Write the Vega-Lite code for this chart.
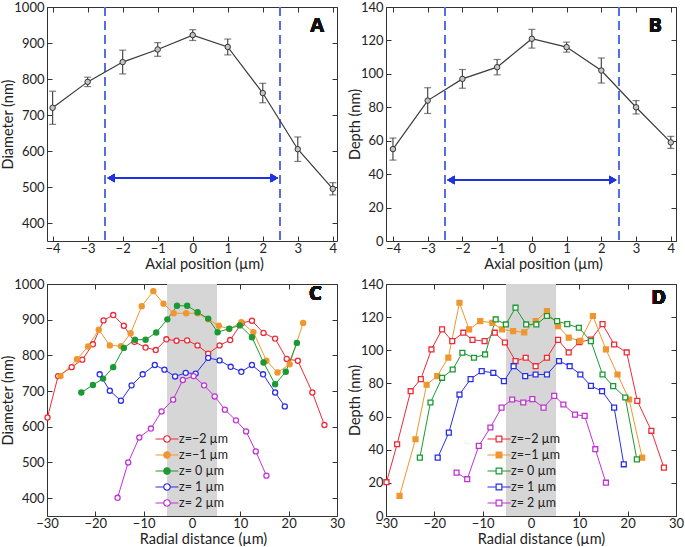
{
  "$schema": "https://vega.github.io/schema/vega-lite/v6.json",
  "autosize": {"type": "pad"},
  "padding": {"left": 0, "top": 0, "right": 2, "bottom": 0},
  "background": "white",
  "config": {
    "font": "Lato",
    "view": {"stroke": "#333333", "strokeWidth": 1},
    "axis": {
      "domain": false, "grid": false, "tickSize": -5, "tickColor": "#333333", "tickWidth": 1, "format": "d",
      "labelFont": "Lato", "labelFontSize": 13, "labelColor": "#222222",
      "labelFlush": false, "labelOverlap": false,
      "titleFont": "Lato", "titleFontSize": 14.5, "titleFontWeight": "normal", "titleColor": "#222222"
    },
    "axisX": {"labelPadding": 6, "titlePadding": 2},
    "axisY": {"labelPadding": 8, "titlePadding": -2},
    "legend": {"labelFont": "Lato", "labelFontSize": 12.5, "labelColor": "#222222", "padding": 0}
  },
  "columns": 2,
  "spacing": {"row": 43, "column": 49},
  "bounds": "flush",
  "resolve": {"scale": {"stroke": "independent", "fill": "independent"}, "legend": {"stroke": "independent"}},
  "datasets": {
    "A": [
      {"x": -4, "y": 720, "err": 46}, {"x": -3, "y": 792, "err": 13}, {"x": -2, "y": 847, "err": 33},
      {"x": -1, "y": 882, "err": 19}, {"x": 0, "y": 922, "err": 15}, {"x": 1, "y": 889, "err": 22},
      {"x": 2, "y": 761, "err": 27}, {"x": 3, "y": 605, "err": 34}, {"x": 4, "y": 495, "err": 17}
    ],
    "B": [
      {"x": -4, "y": 55, "err": 6.6}, {"x": -3, "y": 84, "err": 7.7}, {"x": -2, "y": 97, "err": 5.6},
      {"x": -1, "y": 104, "err": 4.6}, {"x": 0, "y": 121, "err": 5.6}, {"x": 1, "y": 116, "err": 3},
      {"x": 2, "y": 102, "err": 7.5}, {"x": 3, "y": 80, "err": 4}, {"x": 4, "y": 59, "err": 3.6}
    ],
    "C": [
      {"s": "z=−2 µm", "x": -29.9, "y": 626}, {"s": "z=−2 µm", "x": -27.7, "y": 742}, {"s": "z=−2 µm", "x": -24.9, "y": 767},
      {"s": "z=−2 µm", "x": -22.7, "y": 788}, {"s": "z=−2 µm", "x": -20.5, "y": 831}, {"s": "z=−2 µm", "x": -18.3, "y": 898},
      {"s": "z=−2 µm", "x": -16.3, "y": 913}, {"s": "z=−2 µm", "x": -14.1, "y": 883}, {"s": "z=−2 µm", "x": -11.9, "y": 838},
      {"s": "z=−2 µm", "x": -9.6, "y": 822}, {"s": "z=−2 µm", "x": -7.5, "y": 815}, {"s": "z=−2 µm", "x": -5.3, "y": 845},
      {"s": "z=−2 µm", "x": -3.2, "y": 841}, {"s": "z=−2 µm", "x": -1.0, "y": 842}, {"s": "z=−2 µm", "x": 1.15, "y": 828},
      {"s": "z=−2 µm", "x": 3.35, "y": 805}, {"s": "z=−2 µm", "x": 5.7, "y": 828}, {"s": "z=−2 µm", "x": 7.9, "y": 843},
      {"s": "z=−2 µm", "x": 10.3, "y": 891}, {"s": "z=−2 µm", "x": 12.4, "y": 897}, {"s": "z=−2 µm", "x": 14.8, "y": 863},
      {"s": "z=−2 µm", "x": 17.2, "y": 847}, {"s": "z=−2 µm", "x": 19.6, "y": 790}, {"s": "z=−2 µm", "x": 21.9, "y": 785},
      {"s": "z=−2 µm", "x": 24.9, "y": 696}, {"s": "z=−2 µm", "x": 27.4, "y": 605},
      {"s": "z=−1 µm", "x": -27.2, "y": 742}, {"s": "z=−1 µm", "x": -23.8, "y": 789}, {"s": "z=−1 µm", "x": -21.5, "y": 825},
      {"s": "z=−1 µm", "x": -19.3, "y": 872}, {"s": "z=−1 µm", "x": -17.0, "y": 828}, {"s": "z=−1 µm", "x": -14.7, "y": 826},
      {"s": "z=−1 µm", "x": -12.7, "y": 862}, {"s": "z=−1 µm", "x": -10.4, "y": 938}, {"s": "z=−1 µm", "x": -8.0, "y": 980},
      {"s": "z=−1 µm", "x": -5.9, "y": 945}, {"s": "z=−1 µm", "x": -3.8, "y": 918}, {"s": "z=−1 µm", "x": -1.2, "y": 918},
      {"s": "z=−1 µm", "x": 1.15, "y": 918}, {"s": "z=−1 µm", "x": 3.35, "y": 901}, {"s": "z=−1 µm", "x": 5.55, "y": 883},
      {"s": "z=−1 µm", "x": 7.7, "y": 874}, {"s": "z=−1 µm", "x": 10.2, "y": 893}, {"s": "z=−1 µm", "x": 12.7, "y": 865},
      {"s": "z=−1 µm", "x": 15.4, "y": 785}, {"s": "z=−1 µm", "x": 17.7, "y": 752}, {"s": "z=−1 µm", "x": 20.2, "y": 775},
      {"s": "z=−1 µm", "x": 23.0, "y": 891},
      {"s": "z= 0 µm", "x": -22.9, "y": 696}, {"s": "z= 0 µm", "x": -20.5, "y": 717}, {"s": "z= 0 µm", "x": -18.4, "y": 735},
      {"s": "z= 0 µm", "x": -16.3, "y": 767}, {"s": "z= 0 µm", "x": -14.1, "y": 821}, {"s": "z= 0 µm", "x": -11.8, "y": 844},
      {"s": "z= 0 µm", "x": -9.6, "y": 844}, {"s": "z= 0 µm", "x": -7.4, "y": 864}, {"s": "z= 0 µm", "x": -5.1, "y": 901},
      {"s": "z= 0 µm", "x": -3.1, "y": 939}, {"s": "z= 0 µm", "x": -1.0, "y": 939}, {"s": "z= 0 µm", "x": 1.15, "y": 921},
      {"s": "z= 0 µm", "x": 3.35, "y": 903}, {"s": "z= 0 µm", "x": 5.3, "y": 865}, {"s": "z= 0 µm", "x": 7.7, "y": 875},
      {"s": "z= 0 µm", "x": 9.9, "y": 884}, {"s": "z= 0 µm", "x": 12.4, "y": 851}, {"s": "z= 0 µm", "x": 14.8, "y": 780},
      {"s": "z= 0 µm", "x": 17.2, "y": 719}, {"s": "z= 0 µm", "x": 19.4, "y": 754}, {"s": "z= 0 µm", "x": 21.7, "y": 835},
      {"s": "z= 1 µm", "x": -19.1, "y": 747}, {"s": "z= 1 µm", "x": -17.0, "y": 701}, {"s": "z= 1 µm", "x": -14.7, "y": 673},
      {"s": "z= 1 µm", "x": -12.5, "y": 716}, {"s": "z= 1 µm", "x": -10.2, "y": 747}, {"s": "z= 1 µm", "x": -7.7, "y": 773},
      {"s": "z= 1 µm", "x": -5.7, "y": 760}, {"s": "z= 1 µm", "x": -3.5, "y": 741}, {"s": "z= 1 µm", "x": -1.3, "y": 751},
      {"s": "z= 1 µm", "x": 0.75, "y": 749}, {"s": "z= 1 µm", "x": 3.35, "y": 793}, {"s": "z= 1 µm", "x": 5.7, "y": 786},
      {"s": "z= 1 µm", "x": 8.0, "y": 768}, {"s": "z= 1 µm", "x": 10.2, "y": 754}, {"s": "z= 1 µm", "x": 12.4, "y": 773},
      {"s": "z= 1 µm", "x": 14.7, "y": 747}, {"s": "z= 1 µm", "x": 17.2, "y": 696}, {"s": "z= 1 µm", "x": 19.2, "y": 657},
      {"s": "z= 2 µm", "x": -15.4, "y": 401}, {"s": "z= 2 µm", "x": -13.2, "y": 500}, {"s": "z= 2 µm", "x": -10.9, "y": 570},
      {"s": "z= 2 µm", "x": -8.5, "y": 595}, {"s": "z= 2 µm", "x": -6.3, "y": 643}, {"s": "z= 2 µm", "x": -3.9, "y": 676},
      {"s": "z= 2 µm", "x": -1.9, "y": 731}, {"s": "z= 2 µm", "x": 0.33, "y": 742}, {"s": "z= 2 µm", "x": 2.5, "y": 716},
      {"s": "z= 2 µm", "x": 4.7, "y": 685}, {"s": "z= 2 µm", "x": 6.8, "y": 648}, {"s": "z= 2 µm", "x": 9.1, "y": 618},
      {"s": "z= 2 µm", "x": 11.2, "y": 587}, {"s": "z= 2 µm", "x": 13.2, "y": 531}, {"s": "z= 2 µm", "x": 15.4, "y": 463}
    ],
    "D": [
      {"s": "z=−2 µm", "x": -29.9, "y": 20.4}, {"s": "z=−2 µm", "x": -27.7, "y": 43.3}, {"s": "z=−2 µm", "x": -24.9, "y": 75.3},
      {"s": "z=−2 µm", "x": -22.8, "y": 82.6}, {"s": "z=−2 µm", "x": -20.6, "y": 100.5}, {"s": "z=−2 µm", "x": -18.4, "y": 112.6},
      {"s": "z=−2 µm", "x": -16.3, "y": 105.5}, {"s": "z=−2 µm", "x": -14.0, "y": 110.6}, {"s": "z=−2 µm", "x": -12.1, "y": 106.3},
      {"s": "z=−2 µm", "x": -9.6, "y": 105.5}, {"s": "z=−2 µm", "x": -7.5, "y": 110.6}, {"s": "z=−2 µm", "x": -5.4, "y": 104.7},
      {"s": "z=−2 µm", "x": -3.2, "y": 93.5}, {"s": "z=−2 µm", "x": -1.1, "y": 95.5}, {"s": "z=−2 µm", "x": 0.95, "y": 90.4},
      {"s": "z=−2 µm", "x": 3.3, "y": 95.5}, {"s": "z=−2 µm", "x": 5.6, "y": 106.3}, {"s": "z=−2 µm", "x": 7.8, "y": 98.7},
      {"s": "z=−2 µm", "x": 10.0, "y": 104.9}, {"s": "z=−2 µm", "x": 12.4, "y": 106.5}, {"s": "z=−2 µm", "x": 14.8, "y": 115.8},
      {"s": "z=−2 µm", "x": 17.2, "y": 103.5}, {"s": "z=−2 µm", "x": 19.8, "y": 98.7}, {"s": "z=−2 µm", "x": 22.0, "y": 69.5},
      {"s": "z=−2 µm", "x": 24.9, "y": 51.4}, {"s": "z=−2 µm", "x": 27.5, "y": 29.2},
      {"s": "z=−1 µm", "x": -27.2, "y": 12.1}, {"s": "z=−1 µm", "x": -23.9, "y": 46.3}, {"s": "z=−1 µm", "x": -21.6, "y": 79.2},
      {"s": "z=−1 µm", "x": -19.4, "y": 84.4}, {"s": "z=−1 µm", "x": -17.1, "y": 95.6}, {"s": "z=−1 µm", "x": -14.8, "y": 128.7},
      {"s": "z=−1 µm", "x": -12.8, "y": 112.6}, {"s": "z=−1 µm", "x": -10.5, "y": 117.6}, {"s": "z=−1 µm", "x": -8.0, "y": 116.6},
      {"s": "z=−1 µm", "x": -6.0, "y": 112.6}, {"s": "z=−1 µm", "x": -3.7, "y": 111.6}, {"s": "z=−1 µm", "x": -1.4, "y": 110.8},
      {"s": "z=−1 µm", "x": 0.95, "y": 117.6}, {"s": "z=−1 µm", "x": 3.3, "y": 123.7}, {"s": "z=−1 µm", "x": 5.6, "y": 114.6},
      {"s": "z=−1 µm", "x": 7.8, "y": 107.6}, {"s": "z=−1 µm", "x": 10.2, "y": 105.7}, {"s": "z=−1 µm", "x": 12.8, "y": 120.7},
      {"s": "z=−1 µm", "x": 15.5, "y": 100.5}, {"s": "z=−1 µm", "x": 17.9, "y": 85.4}, {"s": "z=−1 µm", "x": 20.3, "y": 70.3},
      {"s": "z=−1 µm", "x": 23.0, "y": 35.2},
      {"s": "z= 0 µm", "x": -23.0, "y": 35.2}, {"s": "z= 0 µm", "x": -20.8, "y": 68.5}, {"s": "z= 0 µm", "x": -18.4, "y": 83.4},
      {"s": "z= 0 µm", "x": -16.2, "y": 88.4}, {"s": "z= 0 µm", "x": -14.2, "y": 98.5}, {"s": "z= 0 µm", "x": -11.8, "y": 95.5},
      {"s": "z= 0 µm", "x": -9.5, "y": 97.5}, {"s": "z= 0 µm", "x": -7.3, "y": 118.6}, {"s": "z= 0 µm", "x": -5.2, "y": 115.6},
      {"s": "z= 0 µm", "x": -3.2, "y": 125.7}, {"s": "z= 0 µm", "x": -1.0, "y": 115.6}, {"s": "z= 0 µm", "x": 1.1, "y": 115.6},
      {"s": "z= 0 µm", "x": 3.3, "y": 120.7}, {"s": "z= 0 µm", "x": 5.4, "y": 117.6}, {"s": "z= 0 µm", "x": 7.5, "y": 115.8},
      {"s": "z= 0 µm", "x": 9.9, "y": 113.6}, {"s": "z= 0 µm", "x": 12.4, "y": 105.5}, {"s": "z= 0 µm", "x": 14.8, "y": 85.4},
      {"s": "z= 0 µm", "x": 17.0, "y": 78.4}, {"s": "z= 0 µm", "x": 19.5, "y": 71.5}, {"s": "z= 0 µm", "x": 21.9, "y": 34.2},
      {"s": "z= 1 µm", "x": -19.3, "y": 35.2}, {"s": "z= 1 µm", "x": -17.0, "y": 50.3}, {"s": "z= 1 µm", "x": -14.8, "y": 73.3},
      {"s": "z= 1 µm", "x": -12.5, "y": 82.6}, {"s": "z= 1 µm", "x": -10.2, "y": 87.4}, {"s": "z= 1 µm", "x": -7.8, "y": 86.4},
      {"s": "z= 1 µm", "x": -5.6, "y": 81.4}, {"s": "z= 1 µm", "x": -3.6, "y": 90.4}, {"s": "z= 1 µm", "x": -1.2, "y": 84.4},
      {"s": "z= 1 µm", "x": 0.95, "y": 85.4}, {"s": "z= 1 µm", "x": 3.3, "y": 85.4}, {"s": "z= 1 µm", "x": 5.8, "y": 93.5},
      {"s": "z= 1 µm", "x": 8.0, "y": 90.4}, {"s": "z= 1 µm", "x": 10.2, "y": 85.4}, {"s": "z= 1 µm", "x": 12.4, "y": 78.5},
      {"s": "z= 1 µm", "x": 14.7, "y": 75.3}, {"s": "z= 1 µm", "x": 17.2, "y": 65.4}, {"s": "z= 1 µm", "x": 19.2, "y": 31.2},
      {"s": "z= 2 µm", "x": -15.4, "y": 26.2}, {"s": "z= 2 µm", "x": -13.2, "y": 22.2}, {"s": "z= 2 µm", "x": -10.8, "y": 42.3},
      {"s": "z= 2 µm", "x": -8.4, "y": 53.4}, {"s": "z= 2 µm", "x": -6.1, "y": 65.4}, {"s": "z= 2 µm", "x": -3.9, "y": 70.3},
      {"s": "z= 2 µm", "x": -1.6, "y": 68.5}, {"s": "z= 2 µm", "x": 0.27, "y": 70.5}, {"s": "z= 2 µm", "x": 2.6, "y": 65.4},
      {"s": "z= 2 µm", "x": 4.8, "y": 72.5}, {"s": "z= 2 µm", "x": 6.7, "y": 67.3}, {"s": "z= 2 µm", "x": 9.1, "y": 61.2},
      {"s": "z= 2 µm", "x": 11.1, "y": 60.4}, {"s": "z= 2 µm", "x": 13.3, "y": 40.3}, {"s": "z= 2 µm", "x": 15.5, "y": 20.1}
    ]
  },
  "concat": [
    {
      "width": 290, "height": 234,
      "data": {"name": "A"},
      "layer": [
        {"mark": {"type": "rule", "color": "#5a6ee2", "strokeWidth": 1.4, "strokeDash": [9, 5]},
         "encoding": {"x": {"datum": -2.5, "type": "quantitative", "axis": null}}},
        {"mark": {"type": "rule", "color": "#5a6ee2", "strokeWidth": 1.4, "strokeDash": [9, 5]},
         "encoding": {"x": {"datum": 2.5, "type": "quantitative", "axis": null}}},
        {"mark": {"type": "rule", "color": "#1f33e0", "strokeWidth": 1.6},
         "encoding": {"x": {"datum": -2.4, "type": "quantitative", "axis": null}, "x2": {"datum": 2.4}, "y": {"datum": 525, "type": "quantitative", "axis": null}}},
        {"mark": {"type": "point", "shape": "triangle-left", "filled": true, "color": "#1f33e0", "size": 70, "opacity": 1},
         "encoding": {"x": {"datum": -2.33, "type": "quantitative", "axis": null}, "y": {"datum": 525, "type": "quantitative", "axis": null}}},
        {"mark": {"type": "point", "shape": "triangle-right", "filled": true, "color": "#1f33e0", "size": 70, "opacity": 1},
         "encoding": {"x": {"datum": 2.33, "type": "quantitative", "axis": null}, "y": {"datum": 525, "type": "quantitative", "axis": null}}},
        {"mark": {"type": "errorbar", "ticks": {"size": 7}, "color": "#4a4a4a", "thickness": 1.2},
         "encoding": {"x": {"field": "x", "type": "quantitative", "axis": null}, "y": {"field": "y", "type": "quantitative", "axis": null}, "yError": {"field": "err"}}},
        {"mark": {"type": "line", "color": "#3a3a3a", "strokeWidth": 1.2},
         "encoding": {
           "x": {"field": "x", "type": "quantitative", "scale": {"domain": [-4.16, 4.12], "nice": false, "zero": false},
                 "axis": {"orient": "bottom", "title": "Axial position (µm)", "titleX": 157, "values": [-4, -3, -2, -1, 0, 1, 2, 3, 4]}},
           "y": {"field": "y", "type": "quantitative", "scale": {"domain": [350, 1000], "nice": false, "zero": false},
                 "axis": {"orient": "left", "title": "Diameter (nm)", "values": [400, 500, 600, 700, 800, 900, 1000]}}}},
        {"mark": {"type": "point", "shape": "circle", "filled": true, "fill": "#c4c4c4", "stroke": "#333333", "strokeWidth": 1, "size": 30, "opacity": 1},
         "encoding": {"x": {"field": "x", "type": "quantitative", "axis": null}, "y": {"field": "y", "type": "quantitative", "axis": null}}},
        {"mark": {"type": "text", "text": "A", "font": "Open Sans", "fontWeight": "bold", "fontSize": 20, "color": "#111111"},
         "encoding": {
           "x": {"datum": 3.55, "type": "quantitative", "axis": {"orient": "top", "labels": false, "title": null, "values": [-4, -3, -2, -1, 0, 1, 2, 3, 4]}},
           "y": {"datum": 948, "type": "quantitative", "axis": {"orient": "right", "labels": false, "title": null, "values": [400, 500, 600, 700, 800, 900, 1000]}}}}
      ]
    },
    {
      "width": 290, "height": 234,
      "data": {"name": "B"},
      "layer": [
        {"mark": {"type": "rule", "color": "#5a6ee2", "strokeWidth": 1.4, "strokeDash": [9, 5]},
         "encoding": {"x": {"datum": -2.5, "type": "quantitative", "axis": null}}},
        {"mark": {"type": "rule", "color": "#5a6ee2", "strokeWidth": 1.4, "strokeDash": [9, 5]},
         "encoding": {"x": {"datum": 2.5, "type": "quantitative", "axis": null}}},
        {"mark": {"type": "rule", "color": "#1f33e0", "strokeWidth": 1.6},
         "encoding": {"x": {"datum": -2.4, "type": "quantitative", "axis": null}, "x2": {"datum": 2.4}, "y": {"datum": 36.5, "type": "quantitative", "axis": null}}},
        {"mark": {"type": "point", "shape": "triangle-left", "filled": true, "color": "#1f33e0", "size": 70, "opacity": 1},
         "encoding": {"x": {"datum": -2.33, "type": "quantitative", "axis": null}, "y": {"datum": 36.5, "type": "quantitative", "axis": null}}},
        {"mark": {"type": "point", "shape": "triangle-right", "filled": true, "color": "#1f33e0", "size": 70, "opacity": 1},
         "encoding": {"x": {"datum": 2.33, "type": "quantitative", "axis": null}, "y": {"datum": 36.5, "type": "quantitative", "axis": null}}},
        {"mark": {"type": "errorbar", "ticks": {"size": 7}, "color": "#4a4a4a", "thickness": 1.2},
         "encoding": {"x": {"field": "x", "type": "quantitative", "axis": null}, "y": {"field": "y", "type": "quantitative", "axis": null}, "yError": {"field": "err"}}},
        {"mark": {"type": "line", "color": "#3a3a3a", "strokeWidth": 1.2},
         "encoding": {
           "x": {"field": "x", "type": "quantitative", "scale": {"domain": [-4.2, 4.15], "nice": false, "zero": false},
                 "axis": {"orient": "bottom", "title": "Axial position (µm)", "titleX": 157, "values": [-4, -3, -2, -1, 0, 1, 2, 3, 4]}},
           "y": {"field": "y", "type": "quantitative", "scale": {"domain": [0, 140], "nice": false},
                 "axis": {"orient": "left", "title": "Depth (nm)", "values": [0, 20, 40, 60, 80, 100, 120, 140]}}}},
        {"mark": {"type": "point", "shape": "circle", "filled": true, "fill": "#c4c4c4", "stroke": "#333333", "strokeWidth": 1, "size": 30, "opacity": 1},
         "encoding": {"x": {"field": "x", "type": "quantitative", "axis": null}, "y": {"field": "y", "type": "quantitative", "axis": null}}},
        {"mark": {"type": "text", "text": "B", "font": "Open Sans", "fontWeight": "bold", "fontSize": 20, "color": "#111111"},
         "encoding": {
           "x": {"datum": 3.55, "type": "quantitative", "axis": {"orient": "top", "labels": false, "title": null, "values": [-4, -3, -2, -1, 0, 1, 2, 3, 4]}},
           "y": {"datum": 128.8, "type": "quantitative", "axis": {"orient": "right", "labels": false, "title": null, "values": [0, 20, 40, 60, 80, 100, 120, 140]}}}}
      ]
    },
    {
      "width": 290, "height": 232,
      "data": {"name": "C"},
      "layer": [
        {"mark": {"type": "rect", "color": "#d6d6d6"},
         "encoding": {"x": {"datum": -5, "type": "quantitative", "axis": null}, "x2": {"datum": 5}}},
        {"mark": {"type": "line", "strokeWidth": 1},
         "encoding": {
           "x": {"field": "x", "type": "quantitative", "scale": {"domain": [-30, 30], "nice": false},
                 "axis": {"orient": "bottom", "title": "Radial distance (µm)", "titleX": 156, "values": [-30, -20, -10, 0, 10, 20, 30]}},
           "y": {"field": "y", "type": "quantitative", "scale": {"domain": [350, 1000], "nice": false, "zero": false},
                 "axis": {"orient": "left", "title": "Diameter (nm)", "values": [400, 500, 600, 700, 800, 900, 1000]}},
           "stroke": {"field": "s", "type": "nominal",
                      "scale": {"domain": ["z=−2 µm", "z=−1 µm", "z= 0 µm", "z= 1 µm", "z= 2 µm"], "range": ["#ee2a35", "#f0962e", "#1a9a33", "#2a2ee8", "#c032d4"]},
                      "legend": {"orient": "none", "legendX": 112, "legendY": 147, "title": null,
                                 "symbolType": "M-1.6,0H-0.45M0.45,0H1.6M-0.45,0A0.45,0.45,0,1,1,0.45,0A0.45,0.45,0,1,1,-0.45,0Z",
                                 "symbolSize": 207, "symbolStrokeWidth": 1.2, "labelOffset": 4, "rowPadding": 1,
                                 "encode": {"symbols": {"update": {"fill": {"signal": "datum.value === 'z=−1 µm' ? '#f0962e' : datum.value === 'z= 0 µm' ? '#1a9a33' : '#ffffff'"}}}}}}}},
        {"mark": {"type": "point", "shape": "circle", "filled": true, "size": 26, "strokeWidth": 1.3, "opacity": 1},
         "encoding": {
           "x": {"field": "x", "type": "quantitative", "axis": null},
           "y": {"field": "y", "type": "quantitative", "axis": null},
           "stroke": {"field": "s", "type": "nominal",
                      "scale": {"domain": ["z=−2 µm", "z=−1 µm", "z= 0 µm", "z= 1 µm", "z= 2 µm"], "range": ["#ee2a35", "#f0962e", "#1a9a33", "#2a2ee8", "#c032d4"]}},
           "fill": {"field": "s", "type": "nominal",
                    "scale": {"domain": ["z=−2 µm", "z=−1 µm", "z= 0 µm", "z= 1 µm", "z= 2 µm"], "range": ["#ffffff", "#f0962e", "#1a9a33", "#ffffff", "#ffffff"]}, "legend": null}}},
        {"mark": {"type": "text", "text": "C", "font": "Open Sans", "fontWeight": "bold", "fontSize": 20, "color": "#111111"},
         "encoding": {
           "x": {"datum": 25.5, "type": "quantitative", "axis": {"orient": "top", "labels": false, "title": null, "values": [-30, -20, -10, 0, 10, 20, 30]}},
           "y": {"datum": 972, "type": "quantitative", "axis": {"orient": "right", "labels": false, "title": null, "values": [400, 500, 600, 700, 800, 900, 1000]}}}}
      ]
    },
    {
      "width": 290, "height": 232,
      "data": {"name": "D"},
      "layer": [
        {"mark": {"type": "rect", "color": "#d6d6d6"},
         "encoding": {"x": {"datum": -5, "type": "quantitative", "axis": null}, "x2": {"datum": 5}}},
        {"mark": {"type": "line", "strokeWidth": 1},
         "encoding": {
           "x": {"field": "x", "type": "quantitative", "scale": {"domain": [-30, 30], "nice": false},
                 "axis": {"orient": "bottom", "title": "Radial distance (µm)", "titleX": 155, "values": [-30, -20, -10, 0, 10, 20, 30]}},
           "y": {"field": "y", "type": "quantitative", "scale": {"domain": [0, 140], "nice": false},
                 "axis": {"orient": "left", "title": "Depth (nm)", "values": [0, 20, 40, 60, 80, 100, 120, 140]}},
           "stroke": {"field": "s", "type": "nominal",
                      "scale": {"domain": ["z=−2 µm", "z=−1 µm", "z= 0 µm", "z= 1 µm", "z= 2 µm"], "range": ["#ee2a35", "#f0962e", "#1a9a33", "#2a2ee8", "#c032d4"]},
                      "legend": {"orient": "none", "legendX": 105, "legendY": 147, "title": null,
                                 "symbolType": "M-1.6,0H-0.4M0.4,0H1.6M-0.4,-0.4H0.4V0.4H-0.4Z",
                                 "symbolSize": 207, "symbolStrokeWidth": 1.2, "labelOffset": 4, "rowPadding": 1,
                                 "encode": {"symbols": {"update": {"fill": {"signal": "datum.value === 'z=−1 µm' ? '#f0962e' : '#ffffff'"}}}}}}}},
        {"mark": {"type": "point", "shape": "square", "filled": true, "size": 24, "strokeWidth": 1.3, "opacity": 1},
         "encoding": {
           "x": {"field": "x", "type": "quantitative", "axis": null},
           "y": {"field": "y", "type": "quantitative", "axis": null},
           "stroke": {"field": "s", "type": "nominal",
                      "scale": {"domain": ["z=−2 µm", "z=−1 µm", "z= 0 µm", "z= 1 µm", "z= 2 µm"], "range": ["#ee2a35", "#f0962e", "#1a9a33", "#2a2ee8", "#c032d4"]}},
           "fill": {"field": "s", "type": "nominal",
                    "scale": {"domain": ["z=−2 µm", "z=−1 µm", "z= 0 µm", "z= 1 µm", "z= 2 µm"], "range": ["#ffffff", "#f0962e", "#ffffff", "#ffffff", "#ffffff"]}, "legend": null}}},
        {"mark": {"type": "text", "text": "D", "font": "Open Sans", "fontWeight": "bold", "fontSize": 20, "color": "#111111"},
         "encoding": {
           "x": {"datum": 26.4, "type": "quantitative", "axis": {"orient": "top", "labels": false, "title": null, "values": [-30, -20, -10, 0, 10, 20, 30]}},
           "y": {"datum": 131.4, "type": "quantitative", "axis": {"orient": "right", "labels": false, "title": null, "values": [0, 20, 40, 60, 80, 100, 120, 140]}}}}
      ]
    }
  ]
}
